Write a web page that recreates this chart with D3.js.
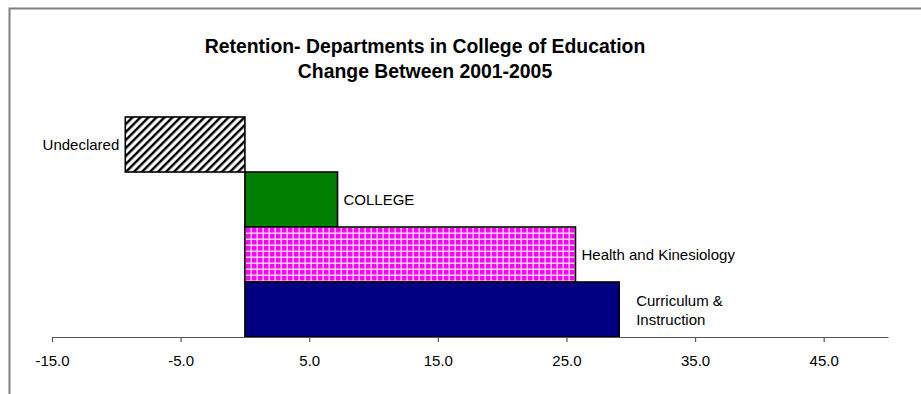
<!DOCTYPE html>
<html><head><meta charset="utf-8">
<script src="https://cdn.jsdelivr.net/npm/d3@7"></script>
<style>body{margin:0;background:#fff}svg{display:block}text{font-family:Arial,"Liberation Sans",sans-serif}</style>
</head><body><svg id="c" width="921" height="394"></svg>
<script>
const categories = ["Undeclared", "COLLEGE", "Health and Kinesiology", "Curriculum & Instruction"];
const labelLines = [["Undeclared"], ["COLLEGE"], ["Health and Kinesiology"], ["Curriculum &", "Instruction"]];
const values = [-9.3, 7.2, 25.7, 29.1];
const tickValues = [-15, -5, 5, 15, 25, 35, 45];
const titleLines = ["Retention- Departments in College of Education", "Change Between 2001-2005"];
const fills = ["url(#hatch)", "#008000", "url(#grid)", "#000080"];

const svg = d3.select("#c");
const defs = svg.append("defs");
const h = defs.append("pattern").attr("id","hatch").attr("patternUnits","userSpaceOnUse")
  .attr("width",5.66).attr("height",8).attr("patternTransform","rotate(45)");
h.append("rect").attr("width",5.66).attr("height",8).attr("fill","#fff");
h.append("rect").attr("x",0).attr("width",2.4).attr("height",8).attr("fill","#000");
const g = defs.append("pattern").attr("id","grid").attr("patternUnits","userSpaceOnUse")
  .attr("width",6).attr("height",6);
g.append("rect").attr("width",6).attr("height",6).attr("fill","#ff00ff");
g.append("rect").attr("x",4.5).attr("width",1.5).attr("height",6).attr("fill","#ffd0ff");
g.append("rect").attr("y",4.5).attr("width",6).attr("height",1.5).attr("fill","#ffd0ff");

// chart border
svg.append("path").attr("d","M9.5,400V8.5H930").attr("fill","none").attr("stroke","#808080").attr("stroke-width",2);

const x = d3.scaleLinear().domain([-15, 50]).range([52, 888]);
const y = d3.scaleBand().domain(categories).range([117, 337]).padding(0);

// title
const t = svg.append("text").attr("text-anchor","middle").attr("font-weight","bold")
  .attr("font-size","19.4px").attr("fill","#000");
titleLines.forEach((s,i)=>t.append("tspan").attr("x",425).attr("y",53+i*25).text(s));

// bars
svg.selectAll("rect.bar").data(categories).join("rect").attr("class","bar")
  .attr("x",(d,i)=>x(Math.min(0,values[i])))
  .attr("width",(d,i)=>Math.abs(x(values[i])-x(0)))
  .attr("y",d=>y(d)).attr("height",y.bandwidth())
  .attr("fill",(d,i)=>fills[i]).attr("stroke","#000").attr("stroke-width",1.6);

// labels
categories.forEach((c,i)=>{
  const v = values[i];
  const lines = labelLines[i];
  const cy = y(c) + y.bandwidth()/2;
  const lh = 19;
  const neg = v < 0;
  const off = lines.length > 1 ? 17 : 6;
  const tx = neg ? x(v) - off : x(v) + off;
  const txt = svg.append("text").attr("font-size","15px").attr("fill","#000")
    .attr("text-anchor", neg ? "end" : "start");
  lines.forEach((s,j)=>{
    txt.append("tspan").attr("x",tx)
      .attr("y", cy + 5.5 + (j - (lines.length-1)/2)*lh).text(s);
  });
});

// axis
const ax = svg.append("g").attr("transform","translate(0,337)")
  .call(d3.axisBottom(x).tickValues(tickValues).tickFormat(d=>d.toFixed(1)).tickSize(5).tickSizeOuter(0));
ax.select(".domain").attr("stroke","#555").attr("stroke-width",1.2);
ax.selectAll(".tick line").attr("stroke","#555").attr("stroke-width",1.2);
ax.selectAll(".tick text").attr("font-size","15px").attr("fill","#000").attr("font-family","Arial, 'Liberation Sans', sans-serif").attr("y",18);
</script></body></html>
